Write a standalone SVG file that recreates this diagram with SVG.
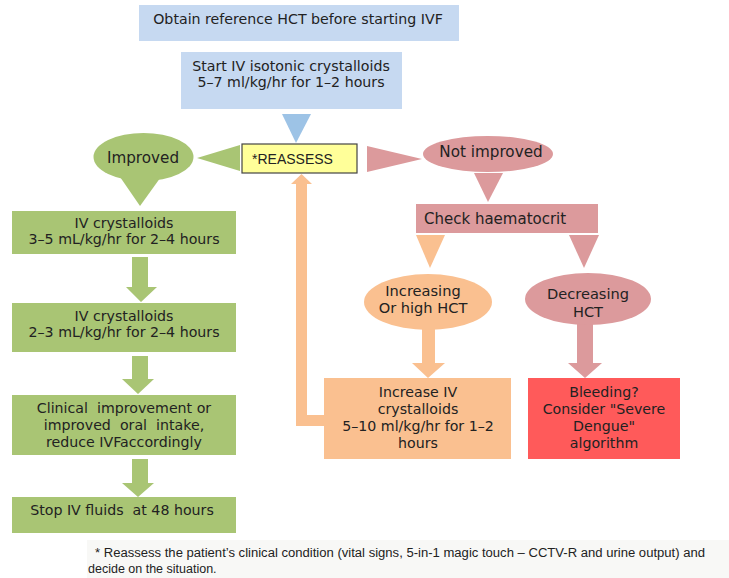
<svg xmlns="http://www.w3.org/2000/svg" width="729" height="578" viewBox="0 0 729 578">
<style>
.t{font-family:"DejaVu Sans",Verdana,sans-serif;font-size:14.2px;fill:#222;text-anchor:middle;white-space:pre}
.tl{font-family:"DejaVu Sans",Verdana,sans-serif;font-size:15px;fill:#222}
.e{font-size:15.2px}
.e2{font-size:14.6px}
.blue{fill:#c6d9f1}
.blued{fill:#9dc3e6}
.green{fill:#a9c574}
.pink{fill:#dc9a9c}
.orange{fill:#fac090}
.red{fill:#ff5a5a}
.foot{font-family:"Liberation Sans",Arial,sans-serif;font-size:12.5px;fill:#222}
</style>
<rect width="729" height="578" fill="#ffffff"/>
<g id="connectors">
<polygon class="blued" points="282,114 311,114 296,143"/>
<polygon class="green" points="240,145 240,171 197,158"/>
<polygon class="pink" points="367,146 367,172 422,159"/>
<polygon class="pink" points="474,173 503,173 488,202"/>
<polygon class="orange" points="416,235 445,235 430,268"/>
<polygon class="pink" points="569,235 599,235 584,268"/>
<path class="orange" d="M422,328 H435 V363 H445 L428,378 L412,363 H422 Z"/>
<path class="pink" d="M577,323 H593 V363 H602 L585,378 L568,363 H577 Z"/>
<path class="orange" d="M296,426 V184 H291 L301.5,174 L312,184 H307 V415 H324 V426 Z"/>
<path class="green" d="M132,257 H148 V287 H157 L141,302 L126,287 H132 Z"/>
<path class="green" d="M132,356 H148 V379 H154 L138,394 L122,379 H132 Z"/>
<path class="green" d="M132,459 H148 V483 H154 L138,497 L122,483 H132 Z"/>
</g>
<g id="n-obtain">
<rect class="blue" x="139" y="5" width="320" height="36"/>
<text class="t" x="298" y="24">Obtain reference HCT before starting IVF</text>
</g>
<g id="n-start">
<rect class="blue" x="181" y="52" width="221" height="57"/>
<text class="t" x="291" y="71">Start IV isotonic crystalloids</text>
<text class="t" x="291" y="87">5–7 ml/kg/hr for 1–2 hours</text>
</g>
<g id="n-reassess">
<rect x="242" y="144" width="115" height="29" fill="#ffff99" stroke="#444" stroke-width="1.2"/>
<text x="252" y="164" font-family="Liberation Sans,Arial,sans-serif" font-size="14" fill="#222">*REASSESS</text>
</g>
<g id="n-improved">
<ellipse class="green" cx="143.5" cy="157" rx="50" ry="24"/>
<polygon class="green" points="118,174 163,174 140,206"/>
<text class="t e" x="143" y="163">Improved</text>
</g>
<g id="n-notimproved">
<ellipse class="pink" cx="488" cy="154" rx="65" ry="18"/>
<text class="t e" x="491" y="157">Not improved</text>
</g>
<g id="n-check">
<rect class="pink" x="416" y="204" width="182" height="29"/>
<text class="tl" x="424" y="224">Check haematocrit</text>
</g>
<g id="n-increasing">
<ellipse class="orange" cx="428" cy="302" rx="64" ry="28"/>
<text class="t e2" x="423" y="296">Increasing</text>
<text class="t e2" x="423" y="313">Or high HCT</text>
</g>
<g id="n-decreasing">
<ellipse class="pink" cx="588" cy="299" rx="63" ry="26"/>
<text class="t e2" x="588" y="299">Decreasing</text>
<text class="t e2" x="588" y="317">HCT</text>
</g>
<g id="n-increaseiv">
<rect class="orange" x="324" y="378" width="187" height="81"/>
<text class="t" x="418" y="397">Increase IV</text>
<text class="t" x="418" y="414">crystalloids</text>
<text class="t" x="418" y="431">5–10 ml/kg/hr for 1–2</text>
<text class="t" x="418" y="448">hours</text>
</g>
<g id="n-bleeding">
<rect class="red" x="528" y="378" width="152" height="81"/>
<text class="t" x="604" y="397">Bleeding?</text>
<text class="t" x="604" y="414">Consider "Severe</text>
<text class="t" x="604" y="431">Dengue"</text>
<text class="t" x="604" y="448">algorithm</text>
</g>
<g id="n-iv1">
<rect class="green" x="12" y="211" width="224" height="43"/>
<text class="t" x="124" y="228">IV crystalloids</text>
<text class="t" x="124" y="244">3–5 mL/kg/hr for 2–4 hours</text>
</g>
<g id="n-iv2">
<rect class="green" x="12" y="303" width="224" height="49"/>
<text class="t" x="124" y="321">IV crystalloids</text>
<text class="t" x="124" y="337">2–3 mL/kg/hr for 2–4 hours</text>
</g>
<g id="n-clinical">
<rect class="green" x="12" y="395" width="224" height="60"/>
<text class="t" x="124" y="413">Clinical  improvement or</text>
<text class="t" x="124" y="430">improved  oral  intake,</text>
<text class="t" x="124" y="447">reduce IVFaccordingly</text>
</g>
<g id="n-stop">
<rect class="green" x="12" y="497" width="224" height="36"/>
<text class="t" x="122" y="515">Stop IV fluids  at 48 hours</text>
</g>
<g id="n-footnote">
<rect x="87" y="540" width="642" height="38" fill="#f8f8f6"/>
<text class="foot" x="95" y="557" textLength="610" lengthAdjust="spacingAndGlyphs">* Reassess the patient’s clinical condition (vital signs, 5-in-1 magic touch – CCTV-R and urine output) and</text>
<text class="foot" x="88" y="573">decide on the situation.</text>
</g>
</svg>
